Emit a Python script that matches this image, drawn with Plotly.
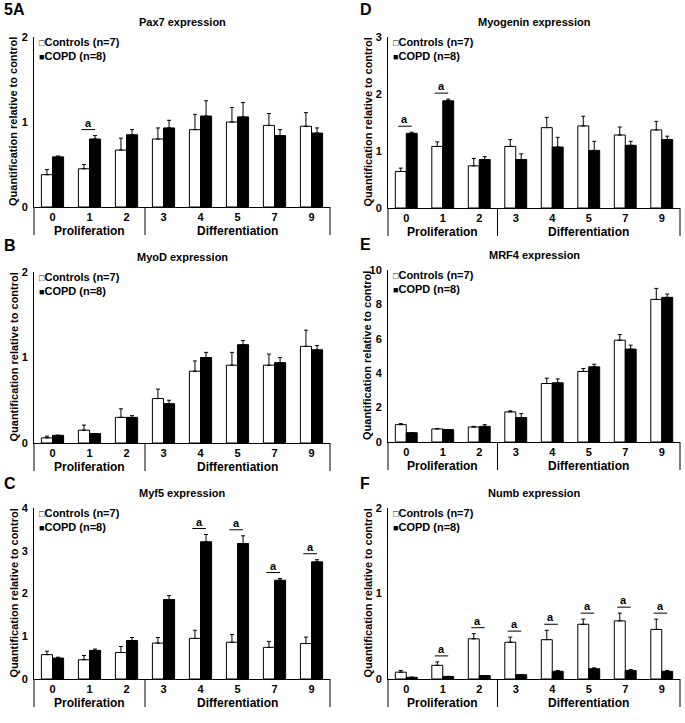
import plotly.graph_objects as go

W, H = 685, 723

# Days of culture and the two phases they belong to
days = ['0', '1', '2', '3', '4', '5', '7', '9']
phases = ['Proliferation', 'Differentiation']
phase_sizes = [3, 5]

# Pax7
pax7_ctrl = [0.38, 0.45, 0.67, 0.80, 0.91, 1.00, 0.96, 0.95]
pax7_ctrl_err = [0.06, 0.05, 0.14, 0.13, 0.18, 0.17, 0.14, 0.16]
pax7_copd = [0.59, 0.80, 0.85, 0.93, 1.07, 1.06, 0.84, 0.87]
pax7_copd_err = [0.01, 0.04, 0.06, 0.09, 0.18, 0.17, 0.07, 0.06]
pax7_sig = [1]

# MyoD
myod_ctrl = [0.06, 0.15, 0.30, 0.52, 0.84, 0.91, 0.91, 1.13]
myod_ctrl_err = [0.02, 0.06, 0.10, 0.11, 0.12, 0.15, 0.13, 0.19]
myod_copd = [0.09, 0.11, 0.30, 0.46, 1.00, 1.15, 0.94, 1.09]
myod_copd_err = [0.0, 0.0, 0.02, 0.04, 0.06, 0.05, 0.06, 0.05]
myod_sig = []

# Myf5
myf5_ctrl = [0.57, 0.45, 0.62, 0.84, 0.95, 0.86, 0.74, 0.83]
myf5_ctrl_err = [0.08, 0.10, 0.14, 0.13, 0.19, 0.18, 0.14, 0.15]
myf5_copd = [0.49, 0.67, 0.90, 1.86, 3.21, 3.17, 2.31, 2.74]
myf5_copd_err = [0.02, 0.03, 0.07, 0.09, 0.17, 0.18, 0.04, 0.05]
myf5_sig = [4, 5, 6, 7]

# Myogenin
myog_ctrl = [0.64, 1.08, 0.74, 1.08, 1.41, 1.44, 1.28, 1.37]
myog_ctrl_err = [0.06, 0.08, 0.13, 0.12, 0.18, 0.17, 0.14, 0.15]
myog_copd = [1.31, 1.88, 0.85, 0.85, 1.07, 1.01, 1.10, 1.20]
myog_copd_err = [0.02, 0.03, 0.05, 0.10, 0.17, 0.16, 0.07, 0.06]
myog_sig = [0, 1]

# MRF4
mrf4_ctrl = [1.01, 0.76, 0.87, 1.75, 3.40, 4.10, 5.92, 8.29]
mrf4_ctrl_err = [0.06, 0.02, 0.04, 0.06, 0.31, 0.17, 0.33, 0.64]
mrf4_copd = [0.54, 0.72, 0.91, 1.42, 3.44, 4.37, 5.40, 8.41]
mrf4_copd_err = [0.0, 0.0, 0.10, 0.23, 0.23, 0.15, 0.23, 0.19]
mrf4_sig = []

# Numb
numb_ctrl = [0.08, 0.16, 0.47, 0.43, 0.46, 0.64, 0.68, 0.58]
numb_ctrl_err = [0.02, 0.04, 0.06, 0.06, 0.11, 0.06, 0.09, 0.12]
numb_copd = [0.02, 0.03, 0.04, 0.05, 0.09, 0.12, 0.10, 0.09]
numb_copd_err = [0.0, 0.0, 0.0, 0.0, 0.01, 0.01, 0.01, 0.01]
numb_sig = [1, 2, 3, 4, 5, 6, 7]

panels = [
    dict(letter='5A', title='Pax7 expression', ctrl=pax7_ctrl, ctrl_err=pax7_ctrl_err,
         copd=pax7_copd, copd_err=pax7_copd_err, sig=pax7_sig, yticks=[0, 1, 2]),
    dict(letter='B', title='MyoD expression', ctrl=myod_ctrl, ctrl_err=myod_ctrl_err,
         copd=myod_copd, copd_err=myod_copd_err, sig=myod_sig, yticks=[0, 1, 2]),
    dict(letter='C', title='Myf5 expression', ctrl=myf5_ctrl, ctrl_err=myf5_ctrl_err,
         copd=myf5_copd, copd_err=myf5_copd_err, sig=myf5_sig, yticks=[0, 1, 2, 3, 4]),
    dict(letter='D', title='Myogenin expression', ctrl=myog_ctrl, ctrl_err=myog_ctrl_err,
         copd=myog_copd, copd_err=myog_copd_err, sig=myog_sig, yticks=[0, 1, 2, 3]),
    dict(letter='E', title='MRF4 expression', ctrl=mrf4_ctrl, ctrl_err=mrf4_ctrl_err,
         copd=mrf4_copd, copd_err=mrf4_copd_err, sig=mrf4_sig, yticks=[0, 2, 4, 6, 8, 10]),
    dict(letter='F', title='Numb expression', ctrl=numb_ctrl, ctrl_err=numb_ctrl_err,
         copd=numb_copd, copd_err=numb_copd_err, sig=numb_sig, yticks=[0, 1, 2]),
]

# pixel box of each plot area: left, right, top, bottom
boxes = [(34, 330, 37, 207), (34, 330, 272, 443), (34, 330, 508, 679),
         (388, 680, 37, 208), (388, 680, 270, 442), (388, 680, 508, 679)]
# panel letter positions (pixels)
letter_pos = [(2, 10), (2, 245), (2, 484), (358, 10), (358, 244), (358, 484)]

FONT = 'Liberation Sans'


def bold(size):
    return dict(family=FONT, size=size, color='black', weight='bold')


fig = go.Figure()
annotations = []
shapes = []

legend_text = ("<span style='font-size:9px'>\u25a1</span><b>Controls (n=7)</b><br>"
               "<span style='font-size:9px'>\u25a0</span><b>COPD (n=8)</b>")

for i, p in enumerate(panels, start=1):
    sfx = '' if i == 1 else str(i)
    xa, ya = 'x' + sfx, 'y' + sfx
    l, r, t, b = boxes[i - 1]
    xs = list(range(len(days)))

    # Controls (white bars)
    fig.add_trace(go.Bar(
        x=xs, y=p['ctrl'], xaxis=xa, yaxis=ya, name='Controls (n=7)',
        marker=dict(color='white', line=dict(color='black', width=1)),
        error_y=dict(type='data', symmetric=False, array=p['ctrl_err'],
                     arrayminus=[0] * len(xs), color='black', thickness=1, width=2),
        showlegend=False
    ))
    # COPD (black bars)
    fig.add_trace(go.Bar(
        x=xs, y=p['copd'], xaxis=xa, yaxis=ya, name='COPD (n=8)',
        marker=dict(color='black', line=dict(color='black', width=1)),
        error_y=dict(type='data', symmetric=False, array=p['copd_err'],
                     arrayminus=[0] * len(xs), color='black', thickness=1, width=2),
        showlegend=False
    ))

    fig.layout['xaxis' + sfx] = dict(
        domain=[l / W, r / W], anchor=ya, range=[-0.5, len(days) - 0.5],
        tickvals=xs, ticktext=days, tickfont=bold(11), ticks='',
        showline=True, linecolor='black', linewidth=1,
        showgrid=False, zeroline=False, automargin=False
    )
    fig.layout['yaxis' + sfx] = dict(
        domain=[1 - b / H, 1 - t / H], anchor=xa, range=[0, max(p['yticks'])],
        tickvals=p['yticks'], tickfont=bold(11), ticks='outside', ticklen=3,
        tickcolor='rgba(0,0,0,0)',
        showline=True, linecolor='black', linewidth=1,
        showgrid=False, zeroline=False, automargin=False
    )

    xdom, ydom = xa + ' domain', ya + ' domain'

    # title, y-axis label, legend text
    annotations.append(dict(text=p['title'], xref=xdom, yref=ydom, x=0.5, y=1,
                            yanchor='bottom', yshift=7, showarrow=False, font=bold(11)))
    annotations.append(dict(text='Quantification relative to control', xref=xdom, yref=ydom,
                            x=0, y=0.5, xanchor='center', yanchor='middle', xshift=-21,
                            textangle=-90, showarrow=False, font=bold(11)))
    annotations.append(dict(text=legend_text,
                            xref=xdom, yref=ydom, x=0, y=1, xanchor='left', yanchor='top',
                            xshift=3, yshift=3, align='left', showarrow=False, font=bold(11)))

    # phase labels and dividers under the axis
    start = 0
    shapes.append(dict(type='line', xref=xdom, yref=ydom, x0=0, x1=0, ysizemode='pixel',
                       yanchor=0, y0=0, y1=-28, line=dict(color='black', width=1)))
    for name, n in zip(phases, phase_sizes):
        annotations.append(dict(text=name, xref=xa, yref=ydom, x=start + (n - 1) / 2, y=0,
                                yanchor='middle', yshift=-24, showarrow=False, font=bold(12)))
        start += n
        shapes.append(dict(type='line', xref=xdom, yref=ydom, x0=start / len(days),
                           x1=start / len(days), ysizemode='pixel', yanchor=0, y0=0, y1=-28,
                           line=dict(color='black', width=1)))

    # significance marks
    for k in p['sig']:
        top = max(p['ctrl'][k] + p['ctrl_err'][k], p['copd'][k] + p['copd_err'][k])
        shapes.append(dict(type='line', xref=xa, yref=ya, x0=k - 0.22, x1=k + 0.15,
                           ysizemode='pixel', yanchor=top, y0=6, y1=6,
                           line=dict(color='black', width=1)))
        annotations.append(dict(text='a', xref=xa, yref=ya, x=k - 0.035, y=top,
                                yanchor='bottom', yshift=5, showarrow=False, font=bold(11)))

    # panel letter
    lx, ly = letter_pos[i - 1]
    annotations.append(dict(text=p['letter'], xref='paper', yref='paper', x=lx / W, y=1 - ly / H,
                            xanchor='left', yanchor='middle', showarrow=False, font=bold(16)))

fig.update_layout(
    width=W, height=H,
    margin=dict(l=0, r=0, t=0, b=0),
    barmode='group', bargap=0.4, bargroupgap=0,
    plot_bgcolor='white', paper_bgcolor='white',
    template='none',
    showlegend=False,
    annotations=annotations,
    shapes=shapes,
    font=dict(family=FONT, color='black')
)

# page body has a default 8px margin; drop it so the figure fills the window
fig.write_html("out.html", config={'displayModeBar': False},
               post_script="document.body.style.margin = '0px';")
